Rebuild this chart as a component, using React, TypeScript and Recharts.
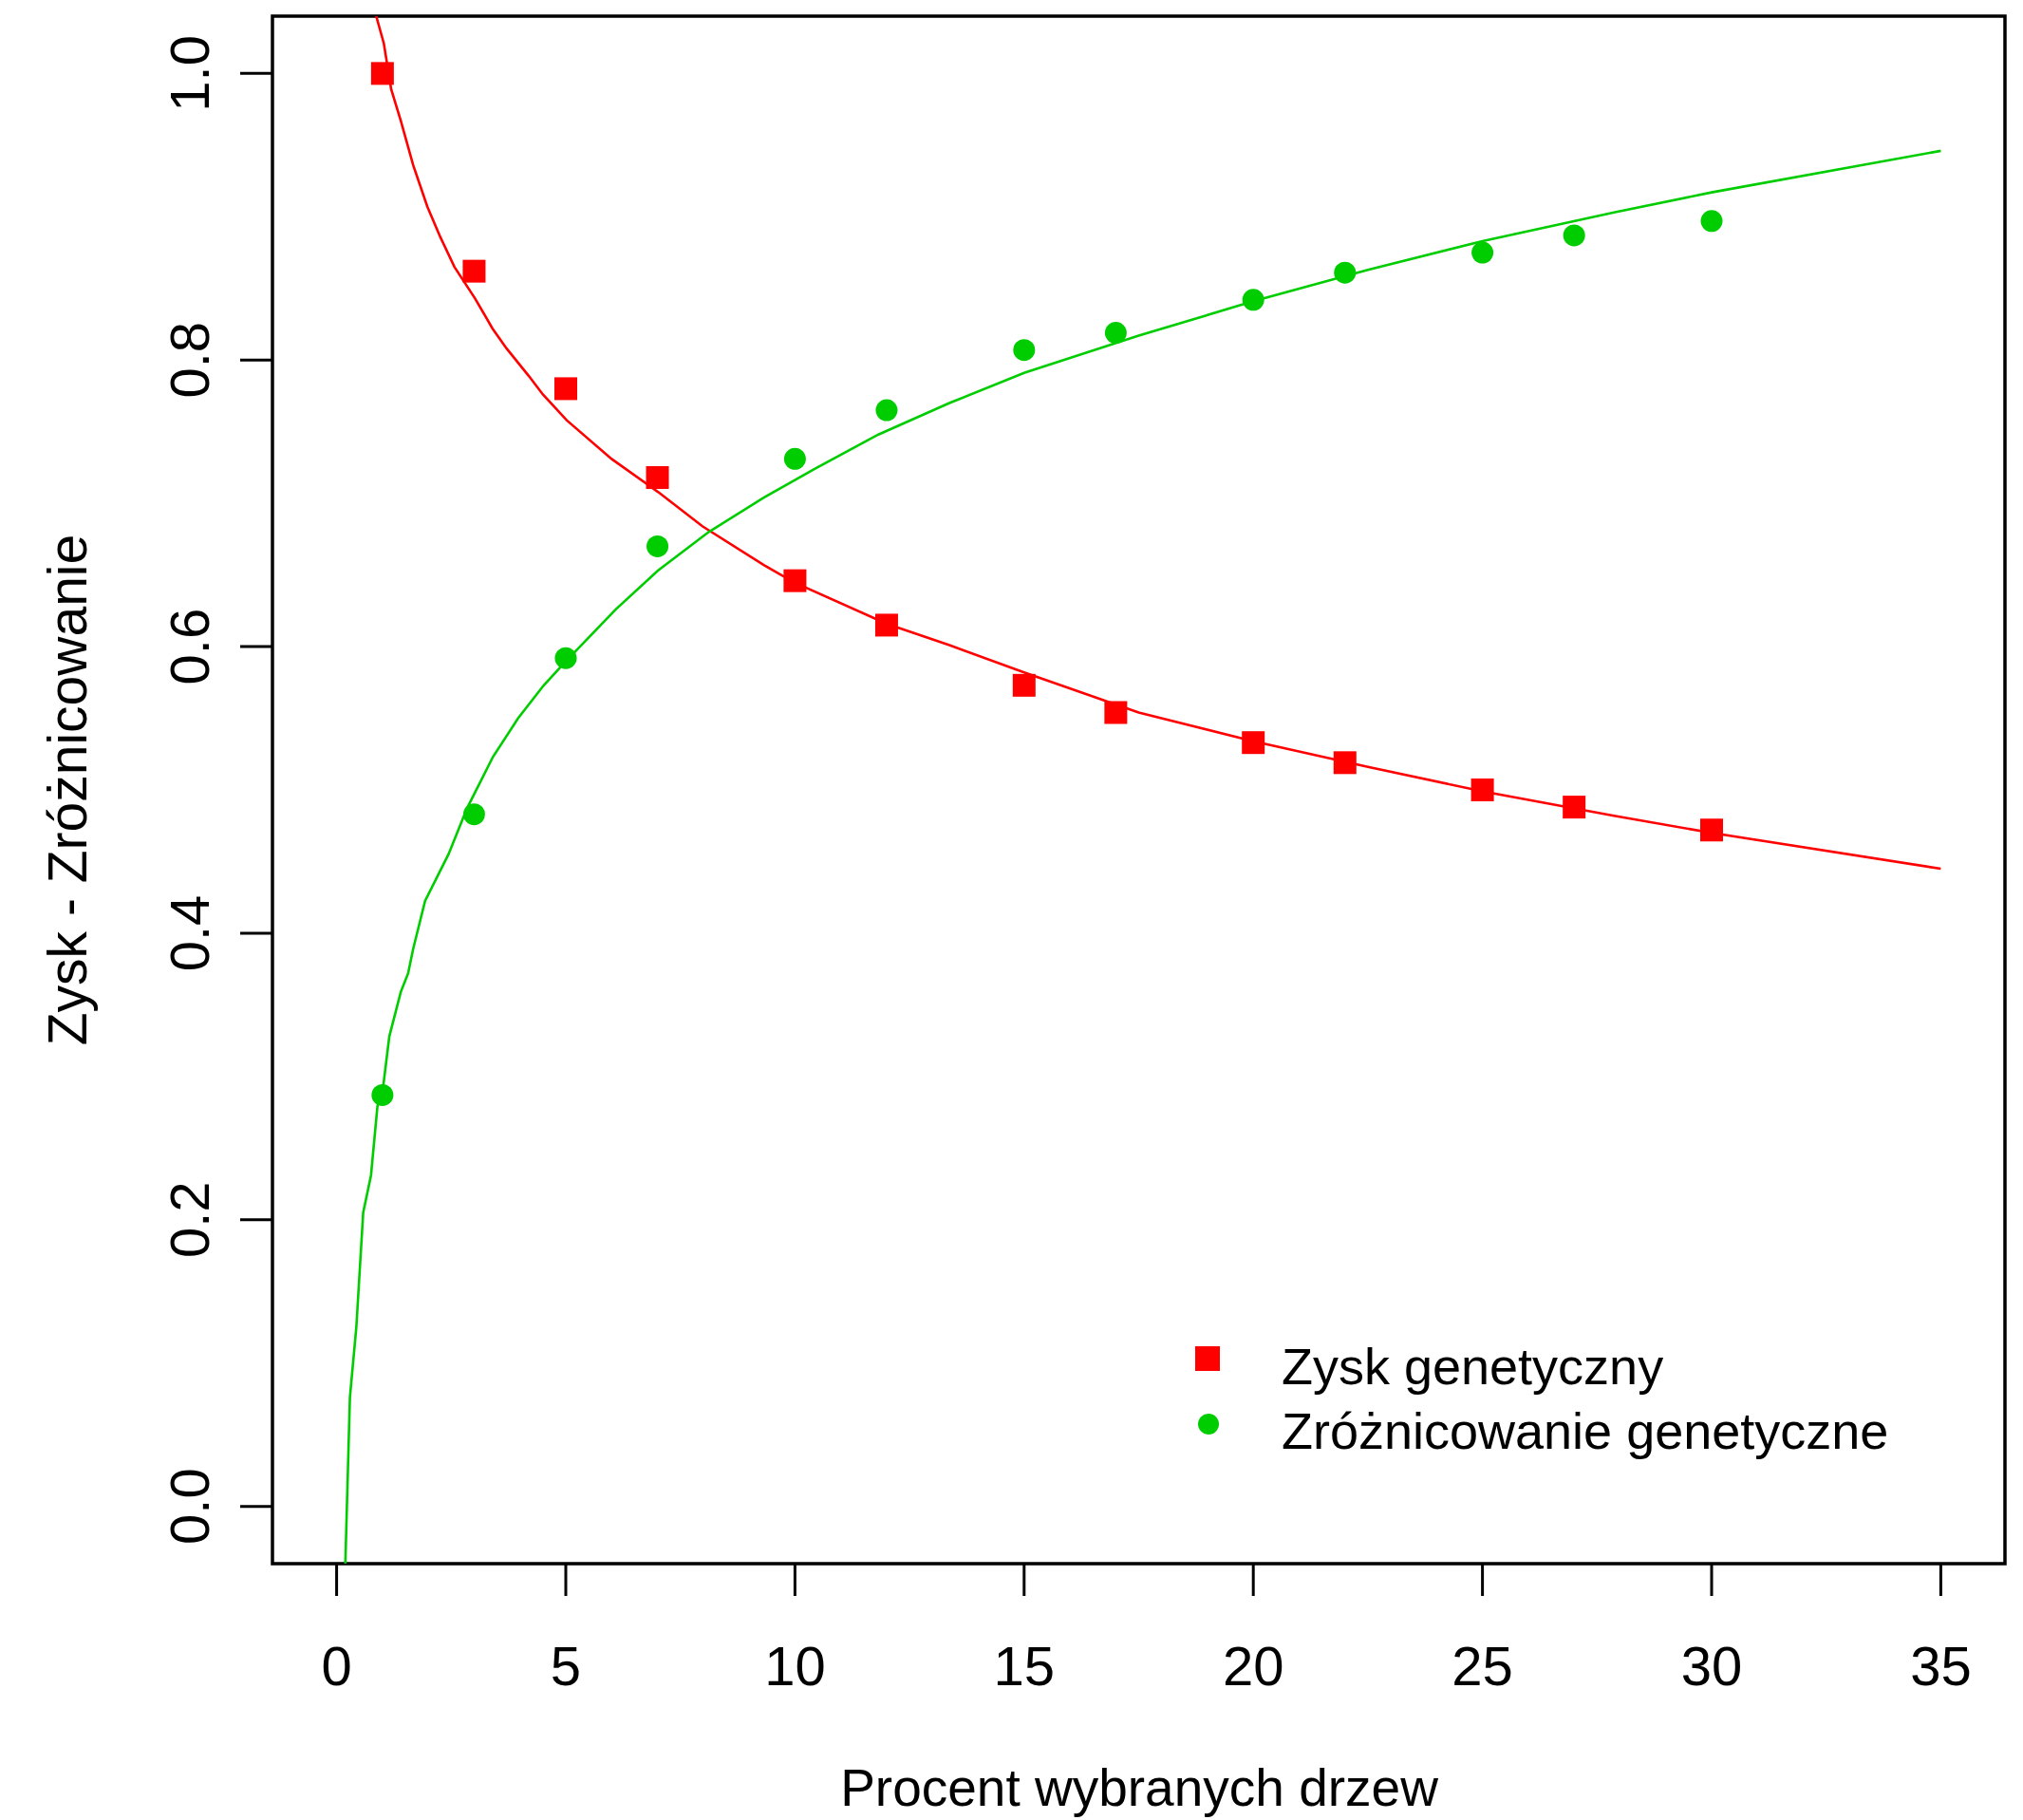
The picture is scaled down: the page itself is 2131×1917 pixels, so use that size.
import { ComposedChart, Line, Scatter, XAxis, YAxis, ReferenceArea } from "recharts"

// measured points
const PERCENT = [1, 3, 5, 7, 10, 12, 15, 17, 20, 22, 25, 27, 30]
const GAIN = [1.0, 0.862, 0.78, 0.718, 0.646, 0.615, 0.573, 0.554, 0.533, 0.519, 0.5, 0.488, 0.472]
const DIVERSITY = [0.287, 0.483, 0.592, 0.67, 0.731, 0.765, 0.807, 0.819, 0.842, 0.861, 0.875, 0.887, 0.897]

// fitted curves
const GAIN_FIT_X = [0.864, 1.03, 1.19, 1.4, 1.67, 1.98, 2.26, 2.57, 3.02, 3.4, 3.71, 4.19, 4.5, 5.02, 6.0, 7.01, 7.98, 9.32, 9.97, 12, 13.37, 15, 17.5, 20, 22.5, 25, 27.87, 30, 35]
const GAIN_FIT_Y = [1.04, 1.021, 0.989, 0.967, 0.936, 0.907, 0.886, 0.865, 0.843, 0.822, 0.808, 0.789, 0.776, 0.758, 0.731, 0.708, 0.684, 0.657, 0.645, 0.616, 0.601, 0.582, 0.554, 0.534, 0.516, 0.499, 0.482, 0.47, 0.445]
const DIV_FIT_X = [0.19, 0.29, 0.43, 0.58, 0.75, 0.89, 1.02, 1.15, 1.4, 1.56, 1.67, 1.93, 2.44, 2.85, 3.41, 3.96, 4.52, 4.98, 6.09, 7.01, 8.12, 9.32, 10.43, 11.82, 13.37, 15, 17.5, 20, 22.5, 25, 27.87, 30, 35]
const DIV_FIT_Y = [-0.04, 0.076, 0.125, 0.205, 0.231, 0.279, 0.294, 0.328, 0.359, 0.372, 0.389, 0.4225, 0.455, 0.4875, 0.523, 0.55, 0.573, 0.589, 0.626, 0.653, 0.68, 0.704, 0.724, 0.748, 0.77, 0.791, 0.817, 0.841, 0.863, 0.883, 0.903, 0.917, 0.946]

const X_TICKS = [0, 5, 10, 15, 20, 25, 30, 35]
const Y_TICKS = [0, 0.2, 0.4, 0.6, 0.8, 1.0]

const RED = "#ff0000"
const GREEN = "#00cd00"
const FONT = "'Liberation Sans', Arial, Helvetica, sans-serif"

const gainPts = PERCENT.map((x, i) => ({ x, y: GAIN[i] }))
const divPts = PERCENT.map((x, i) => ({ x, y: DIVERSITY[i] }))
const gainFit = GAIN_FIT_X.map((x, i) => ({ x, y: GAIN_FIT_Y[i] }))
const divFit = DIV_FIT_X.map((x, i) => ({ x, y: DIV_FIT_Y[i] }))

function Square(props: any) {
  const { cx, cy } = props
  if (cx == null || cy == null) return null
  return <rect x={cx - 12} y={cy - 12} width={24} height={24} fill={RED} />
}

function Dot(props: any) {
  const { cx, cy } = props
  if (cx == null || cy == null) return null
  return <circle cx={cx} cy={cy} r={11.5} fill={GREEN} />
}

function XTick({ x, y, payload }: any) {
  return (
    <text x={x} y={y} dy="0.71em" textAnchor="middle" fontSize={58} fontFamily={FONT} fill="#000">
      {payload.value}
    </text>
  )
}

function YTick({ x, y, payload }: any) {
  return (
    <text
      x={x}
      y={y}
      textAnchor="middle"
      transform={`rotate(-90 ${x} ${y})`}
      fontSize={58}
      fontFamily={FONT}
      fill="#000"
    >
      {Number(payload.value).toFixed(1)}
    </text>
  )
}

export default function App() {
  return (
    <div style={{ position: "relative", width: 2131, height: 1917, background: "#fff" }}>
      <style>{`body{margin:0;background:#fff}`}</style>
      <ComposedChart width={2131} height={1917} margin={{ top: 17, right: 19, left: 0, bottom: 0 }}>
        <XAxis
          dataKey="x"
          type="number"
          domain={[-1.4, 36.4]}
          allowDataOverflow
          ticks={X_TICKS}
          height={270}
          axisLine={false}
          tickLine={{ stroke: "#000", strokeWidth: 3 }}
          tickSize={34}
          tickMargin={53}
          tick={<XTick />}
          interval={0}
        />
        <YAxis
          type="number"
          domain={[-0.04, 1.04]}
          allowDataOverflow
          ticks={Y_TICKS}
          width={287}
          axisLine={false}
          tickLine={{ stroke: "#000", strokeWidth: 3 }}
          tickSize={34}
          tickMargin={33}
          tick={<YTick />}
          interval={0}
        />
        <Line data={gainFit} dataKey="y" type="linear" stroke={RED} strokeWidth={2.6} dot={false} isAnimationActive={false} />
        <Line data={divFit} dataKey="y" type="linear" stroke={GREEN} strokeWidth={2.6} dot={false} isAnimationActive={false} />
        <Scatter data={gainPts} dataKey="y" shape={<Square />} isAnimationActive={false} />
        <Scatter data={divPts} dataKey="y" shape={<Dot />} isAnimationActive={false} />
        <ReferenceArea x1={-1.4} x2={36.4} y1={-0.04} y2={1.04} fill="none" stroke="#000" strokeWidth={3.5} ifOverflow="visible" />
      </ComposedChart>
      <svg
        width={2131}
        height={1917}
        style={{ position: "absolute", left: 0, top: 0, pointerEvents: "none" }}
      >
        <text x={1200} y={1902} textAnchor="middle" fontSize={55} fontFamily={FONT} fill="#000">
          Procent wybranych drzew
        </text>
        <text
          x={91}
          y={832}
          textAnchor="middle"
          transform="rotate(-90 91 832)"
          fontSize={57}
          fontFamily={FONT}
          fill="#000"
        >
          Zysk - Zróżnicowanie
        </text>
        <rect x={1259} y={1418} width={26} height={26} fill={RED} />
        <text x={1350} y={1458} fontSize={54} fontFamily={FONT} fill="#000">
          Zysk genetyczny
        </text>
        <circle cx={1273} cy={1500} r={11} fill={GREEN} />
        <text x={1350} y={1526} fontSize={54} fontFamily={FONT} fill="#000">
          Zróżnicowanie genetyczne
        </text>
      </svg>
    </div>
  )
}
